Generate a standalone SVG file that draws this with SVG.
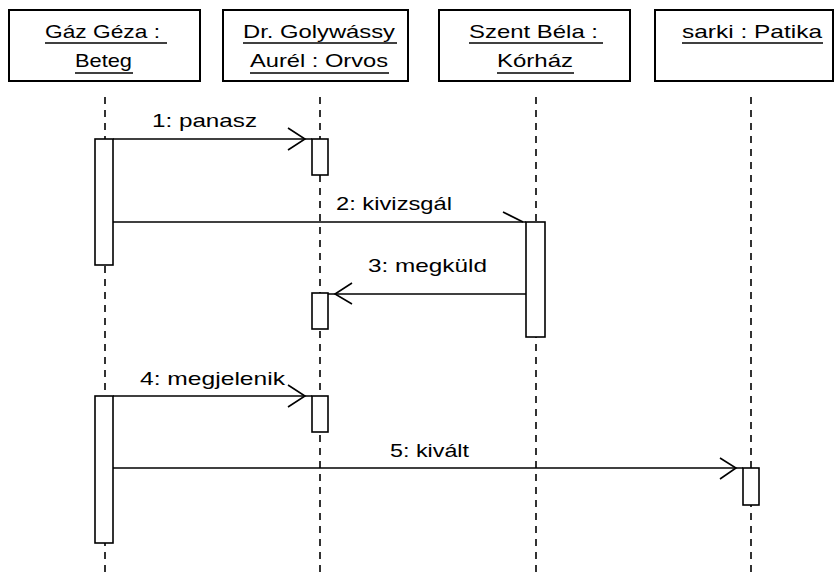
<svg xmlns="http://www.w3.org/2000/svg" width="834" height="575" viewBox="0 0 834 575">
<style>
.box{fill:#fff;stroke:#000;stroke-width:2}
.act{fill:#fff;stroke:#000;stroke-width:1.6}
.life{stroke:#000;stroke-width:1.6;stroke-dasharray:7 6;fill:none}
.msg{stroke:#000;stroke-width:1.6;fill:none}
.ul{stroke:#000;stroke-width:1.6}
text{font-family:"Liberation Sans",Arial,sans-serif;font-size:19px;fill:#000}
</style>
<rect width="834" height="575" fill="#fff"/>
<g id="lifelines">
<line class="life" x1="105" y1="97" x2="105" y2="575"/>
<line class="life" x1="320" y1="97" x2="320" y2="575"/>
<line class="life" x1="536" y1="97" x2="536" y2="575"/>
<line class="life" x1="751" y1="97" x2="751" y2="575"/>
</g>
<g id="node-beteg">
<rect class="box" x="9" y="10" width="191" height="71"/>
<text x="45" y="38" textLength="115" lengthAdjust="spacingAndGlyphs">Gáz Géza :</text>
<line class="ul" x1="45" y1="43" x2="167" y2="43"/>
<text x="75" y="67" textLength="57" lengthAdjust="spacingAndGlyphs">Beteg</text>
<line class="ul" x1="75" y1="73" x2="133" y2="73"/>
</g>
<g id="node-orvos">
<rect class="box" x="223" y="10" width="185" height="71"/>
<text x="243" y="38" textLength="152" lengthAdjust="spacingAndGlyphs">Dr. Golywássy</text>
<line class="ul" x1="243" y1="43" x2="397" y2="43"/>
<text x="250" y="67" textLength="138" lengthAdjust="spacingAndGlyphs">Aurél : Orvos</text>
<line class="ul" x1="250" y1="73" x2="389" y2="73"/>
</g>
<g id="node-korhaz">
<rect class="box" x="439" y="10" width="191" height="71"/>
<text x="469" y="38" textLength="129" lengthAdjust="spacingAndGlyphs">Szent Béla :</text>
<line class="ul" x1="469" y1="43" x2="603" y2="43"/>
<text x="497" y="67" textLength="76" lengthAdjust="spacingAndGlyphs">Kórház</text>
<line class="ul" x1="497" y1="73" x2="574" y2="73"/>
</g>
<g id="node-patika">
<rect class="box" x="655" y="10" width="178" height="71"/>
<text x="682" y="38" textLength="140" lengthAdjust="spacingAndGlyphs">sarki : Patika</text>
<line class="ul" x1="682" y1="43" x2="823" y2="43"/>
</g>
<g id="activations">
<rect class="act" x="95" y="139" width="18" height="126"/>
<rect class="act" x="312" y="139" width="16" height="36"/>
<rect class="act" x="526" y="222" width="19" height="115"/>
<rect class="act" x="312" y="293" width="16" height="36"/>
<rect class="act" x="95" y="396" width="18" height="147"/>
<rect class="act" x="312" y="396" width="16" height="36"/>
<rect class="act" x="743" y="468" width="16" height="37"/>
</g>
<g id="connectors">
<line class="msg" x1="113" y1="139" x2="312" y2="139"/>
<polyline class="msg" points="288,128 305,139 288,150"/>
<line class="msg" x1="113" y1="222" x2="526" y2="222"/>
<polyline class="msg" points="503,212 523,222"/>
<line class="msg" x1="526" y1="294" x2="328" y2="294"/>
<polyline class="msg" points="352,283 335,294 352,304"/>
<line class="msg" x1="113" y1="396" x2="312" y2="396"/>
<polyline class="msg" points="288,385 305,396 288,407"/>
<line class="msg" x1="113" y1="468" x2="743" y2="468"/>
<polyline class="msg" points="720,458 736,468 720,479"/>
</g>
<g id="labels">
<text x="152" y="127" textLength="105" lengthAdjust="spacingAndGlyphs">1: panasz</text>
<text x="336" y="210" textLength="116" lengthAdjust="spacingAndGlyphs">2: kivizsgál</text>
<text x="368" y="272" textLength="119" lengthAdjust="spacingAndGlyphs">3: megküld</text>
<text x="140" y="385" textLength="145" lengthAdjust="spacingAndGlyphs">4: megjelenik</text>
<text x="390" y="457" textLength="79" lengthAdjust="spacingAndGlyphs">5: kivált</text>
</g>
</svg>
